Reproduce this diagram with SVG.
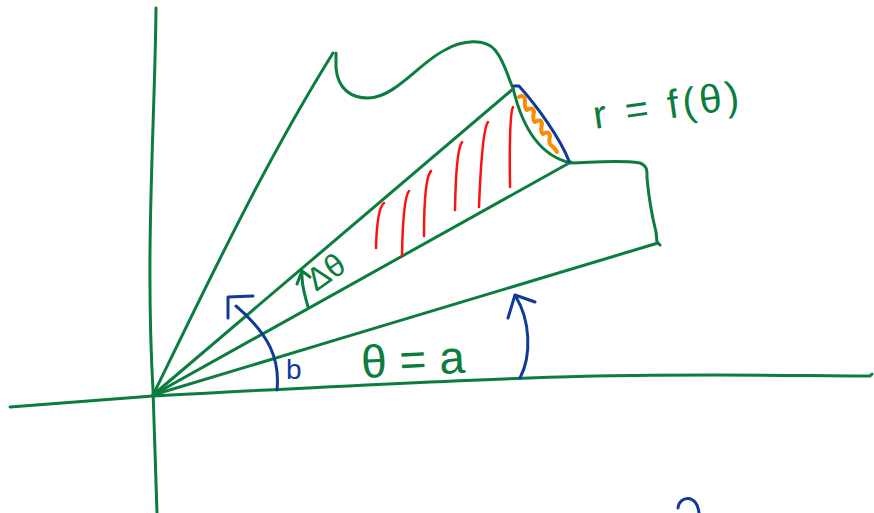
<svg xmlns="http://www.w3.org/2000/svg" width="874" height="513" viewBox="0 0 874 513">
<style>
.g{fill:none;stroke:#0b7d3e;stroke-width:3;stroke-linecap:round;stroke-linejoin:round}
.b{fill:none;stroke:#0f3a98;stroke-width:3;stroke-linecap:round;stroke-linejoin:round}
.r{fill:none;stroke:#ff1010;stroke-width:2.5;stroke-linecap:round}
.o{fill:none;stroke:#ff8a00;stroke-width:4;stroke-linecap:round;stroke-linejoin:round}
.tg{fill:#0b7d3e;font-family:"Liberation Sans",Arial,sans-serif}
.tb{fill:#0f3a98;font-family:"Liberation Sans",Arial,sans-serif}
</style>
<rect width="874" height="513" fill="#ffffff"/>
<g id="axes">
<path class="g" d="M156,8 C155,120 145,250 153,390 L157,513"/>
<path class="g" d="M10,407 L153,396 C300,388 450,380 560,377 C700,373 800,376 870,376 L872,374"/>
</g>
<g id="rays">
<path class="g" d="M153,395 C200,300 260,170 333,53"/>
<path class="g" d="M153,395 L513,89"/>
<path class="g" d="M153,395 L571,162"/>
<path class="g" d="M153,395 C320,345 500,290 658,243"/>
</g>
<g id="curve">
<path class="g" d="M336,53 L336,68 C338,90 352,98 368,98 C395,98 420,62 445,50 C462,40 485,38 495,50 C505,62 508,78 513,88 C520,118 535,155 571,163 C600,162 620,160 640,163 C648,166 647,172 647,178 C649,200 653,220 656,232 L657,242 L660,245"/>
</g>
<g id="hatching">
<path class="r" d="M376,248 Q377,208 384,203"/>
<path class="r" d="M402,256 Q403,198 409,191"/>
<path class="r" d="M424,236 Q424,178 431,171"/>
<path class="r" d="M455,210 Q456,150 462,142"/>
<path class="r" d="M479,207 Q482,130 488,122"/>
<path class="r" d="M510,187 Q509,115 513,107"/>
</g>
<g id="error-strip">
<path class="b" d="M514,86 L519,86 C537,106 560,138 569,161"/>
<path class="o" d="M519,97 Q524,94 525,100 Q524,108 527,110 Q533,106 534,112 Q532,120 535,122 Q541,118 542,124 Q540,132 543,134 Q549,130 550,136 Q548,144 552,146 Q555,148 557,152"/>
</g>
<g id="connectors">
<path class="b" d="M277,390 C280,360 270,335 236,306"/>
<polyline class="b" points="228,318 228,297 253,296"/>
<path class="b" d="M520,378 C532,355 530,320 516,297"/>
<polyline class="b" points="508,318 515,295 535,302"/>
<path class="g" d="M308,307 C305,295 301,285 302,272"/>
<polyline class="g" points="297,284 302,271 310,277"/>
<path class="b" d="M678,508 C679,496 697,493 699,513"/>
</g>
<g id="labels">
<text class="tg" x="595" y="129" font-size="40" letter-spacing="4" transform="rotate(-8 595 129)">r = f(θ)</text>
<text class="tg" x="362" y="378" font-size="46" transform="rotate(-3 362 378)">θ = a</text>
<text class="tb" x="286" y="379" font-size="28">b</text>
<text class="tg" x="316" y="292" font-size="32" transform="rotate(-35 316 292)">Δθ</text>
</g>
</svg>
